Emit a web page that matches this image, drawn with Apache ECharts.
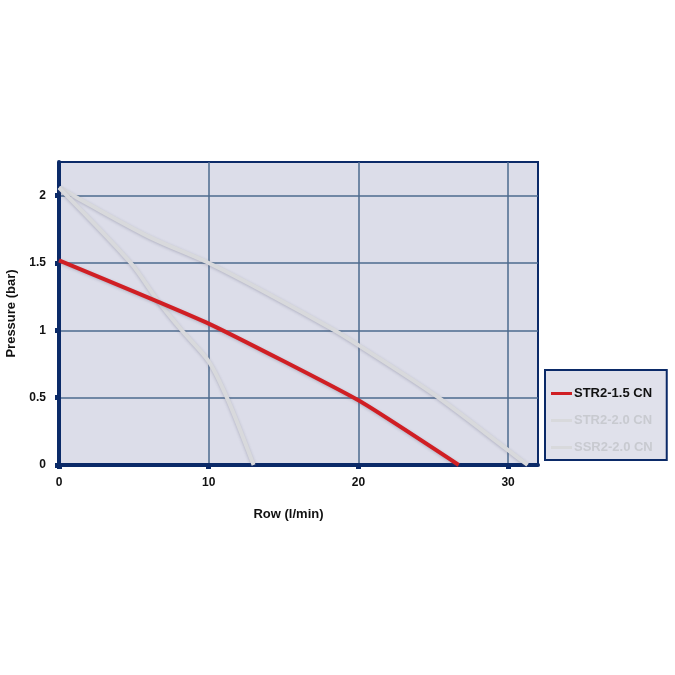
<!DOCTYPE html>
<html>
<head>
<meta charset="utf-8">
<script src="https://cdn.jsdelivr.net/npm/echarts@6/dist/echarts.min.js"></script>
<style>
html,body{margin:0;padding:0;background:#fff;}
#c{width:675px;height:675px;}
</style>
</head>
<body>
<div id="c"></div>
<script>
// Data
var seriesNames = ['STR2-1.5 CN', 'STR2-2.0 CN', 'SSR2-2.0 CN'];
var str15Flow = [0, 10, 20, 26.7];
var str15Pressure = [1.52, 1.05, 0.48, 0];
var str20Flow = [0, 1.6, 6.1, 10, 14, 18.4, 20, 25.1, 30, 31.3];
var str20Pressure = [2.06, 1.96, 1.69, 1.5, 1.27, 1.0, 0.89, 0.52, 0.11, 0];
var ssr20Flow = [0, 4.8, 6.6, 8.2, 10, 11.3, 13];
var ssr20Pressure = [2.06, 1.5, 1.22, 1.0, 0.77, 0.48, 0];
var xTicks = [0, 10, 20, 30];
var yTicks = [0, 0.5, 1, 1.5, 2];

function pairs(xs, ys){ return xs.map(function(x,i){ return [x, ys[i]]; }); }

var navy = '#0b2a68';
var font = '"Liberation Sans", Arial, sans-serif';
var chart = echarts.init(document.getElementById('c'));
chart.setOption({
  animation: false,
  grid: {
    left: 59, right: 137, top: 162, bottom: 210,
    containLabel: false, outerBoundsMode: 'none',
    show: true, backgroundColor: '#dcdde9', borderColor: navy, borderWidth: 2
  },
  legend: {
    orient: 'vertical',
    left: 545, top: 370,
    padding: [17, 14, 6, 6],
    itemGap: 14,
    backgroundColor: '#e0e1eb',
    borderColor: navy, borderWidth: 2,
    icon: 'rect', itemWidth: 21, itemHeight: 3,
    textStyle: { fontFamily: font, fontSize: 13, fontWeight: 'bold', padding: [0,0,0,-3] },
    data: [
      { name: seriesNames[0], textStyle: { color: '#111' } },
      { name: seriesNames[1], textStyle: { color: '#c8cad0' } },
      { name: seriesNames[2], textStyle: { color: '#c8cad0' } }
    ]
  },
  xAxis: {
    type: 'value', min: 0, max: 32, interval: 10,
    name: 'Row (l/min)', nameLocation: 'middle', nameGap: 43,
    nameTextStyle: { fontFamily: font, fontSize: 13, fontWeight: 'bold', color: '#111', padding: [0, 20, 0, 0] },
    axisLine: { show: true, lineStyle: { color: navy, width: 4 } },
    axisTick: { show: true, length: 4, customValues: xTicks, lineStyle: { color: navy, width: 5 } },
    axisLabel: { margin: 12, fontFamily: font, fontSize: 12, fontWeight: 'bold', color: '#111',
      customValues: xTicks },
    splitLine: { show: true, lineStyle: { color: '#4d6a8e', width: 1.5 } }
  },
  yAxis: {
    type: 'value', min: 0, max: 2.25, interval: 0.5,
    name: 'Pressure (bar)', nameLocation: 'middle', nameGap: 39, nameRotate: 90,
    nameTextStyle: { fontFamily: font, fontSize: 13, fontWeight: 'bold', color: '#111' },
    axisLine: { show: true, lineStyle: { color: navy, width: 4 } },
    axisTick: { show: true, length: 4, customValues: yTicks, lineStyle: { color: navy, width: 5 } },
    axisLabel: { margin: 13, fontFamily: font, fontSize: 12, fontWeight: 'bold', color: '#111',
      customValues: yTicks },
    splitLine: { show: true, lineStyle: { color: '#4d6a8e', width: 1.5 } }
  },
  series: [
    { name: seriesNames[1], type: 'line', data: pairs(str20Flow, str20Pressure), smooth: 0.3,
      showSymbol: false, itemStyle: { color: '#d8d9dc' },
      lineStyle: { color: '#d8d9dc', width: 4, shadowColor: 'rgba(80,80,110,0.3)', shadowBlur: 3, shadowOffsetY: 1 } },
    { name: seriesNames[2], type: 'line', data: pairs(ssr20Flow, ssr20Pressure), smooth: 0.3,
      showSymbol: false, itemStyle: { color: '#d8d9dc' },
      lineStyle: { color: '#d8d9dc', width: 4, shadowColor: 'rgba(80,80,110,0.3)', shadowBlur: 3, shadowOffsetY: 1 } },
    { name: seriesNames[0], type: 'line', data: pairs(str15Flow, str15Pressure), smooth: 0.15,
      showSymbol: false, itemStyle: { color: '#d01f24' },
      lineStyle: { color: '#d01f24', width: 4, shadowColor: 'rgba(80,80,110,0.3)', shadowBlur: 3, shadowOffsetY: 1 } }
  ]
});
</script>
</body>
</html>
